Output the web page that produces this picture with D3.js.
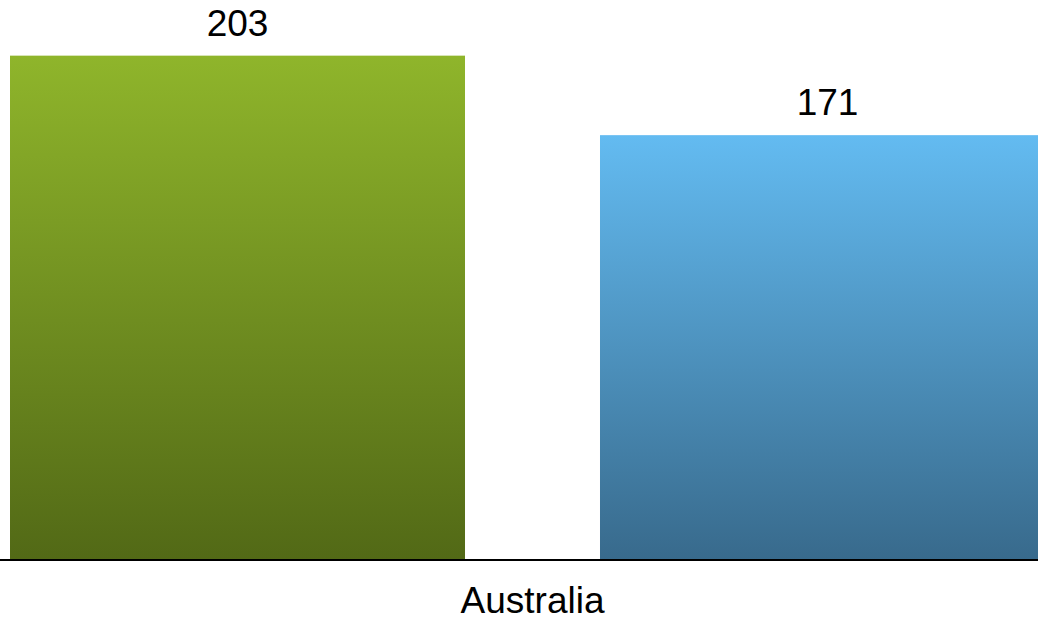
<!DOCTYPE html>
<html>
<head>
<meta charset="utf-8">
<script src="https://cdn.jsdelivr.net/npm/d3@7"></script>
<style>
  html, body { margin: 0; padding: 0; background: #fff; overflow: hidden; }
  svg { display: block; }
</style>
</head>
<body>
<svg id="chart" width="1038" height="622"></svg>
<script>
// Data
const categories = ["Australia"];
const seriesNames = ["Series 1", "Series 2"];
const seriesValues = [[203], [171]];
const gradientStops = [
  ["#8fb52b", "#526916"],
  ["#63bbf1", "#386a8c"]
];

const width = 1038, height = 622;
const margin = { top: 0, left: 10, right: -17, bottom: 62 };
const baseline = height - margin.bottom; // 560

const svg = d3.select("#chart");

// Vertical gradients for the bars
const defs = svg.append("defs");
seriesNames.forEach((name, i) => {
  const g = defs.append("linearGradient")
    .attr("id", "grad" + i)
    .attr("x1", 0).attr("y1", 0).attr("x2", 0).attr("y2", 1);
  g.append("stop").attr("offset", "0%").attr("stop-color", gradientStops[i][0]);
  g.append("stop").attr("offset", "100%").attr("stop-color", gradientStops[i][1]);
});

const x0 = d3.scaleBand()
  .domain(categories)
  .range([margin.left, width - margin.right]);

const x1 = d3.scaleBand()
  .domain(seriesNames)
  .range([0, x0.bandwidth()])
  .paddingInner(0.2288);

const y = d3.scaleLinear()
  .domain([0, 225.4])
  .range([baseline, 0]);

const rows = [];
categories.forEach((cat, ci) => {
  seriesNames.forEach((s, si) => {
    rows.push({ cat, s, si, v: seriesValues[si][ci] });
  });
});

// Bars
svg.append("g").selectAll("rect")
  .data(rows)
  .join("rect")
  .attr("x", d => x0(d.cat) + x1(d.s))
  .attr("y", d => y(d.v))
  .attr("width", x1.bandwidth())
  .attr("height", d => y(0) - y(d.v))
  .attr("fill", d => "url(#grad" + d.si + ")");

// Value labels
svg.append("g").selectAll("text")
  .data(rows)
  .join("text")
  .attr("x", d => x0(d.cat) + x1(d.s) + x1.bandwidth() / 2)
  .attr("y", d => y(d.v) - 20)
  .attr("text-anchor", "middle")
  .attr("font-family", "Liberation Sans, Arial, sans-serif")
  .attr("font-size", 37)
  .attr("fill", "#000")
  .text(d => d.v);

// Category axis
const axis = svg.append("g")
  .attr("transform", `translate(0,${baseline})`)
  .call(d3.axisBottom(x0).tickSize(0).tickPadding(27));
axis.select(".domain")
  .attr("d", `M0,0H${width}`)
  .attr("stroke", "#000")
  .attr("stroke-width", 2);
axis.selectAll(".tick text")
  .attr("font-family", "Liberation Sans, Arial, sans-serif")
  .attr("font-size", 37)
  .attr("fill", "#000");
</script>
</body>
</html>
